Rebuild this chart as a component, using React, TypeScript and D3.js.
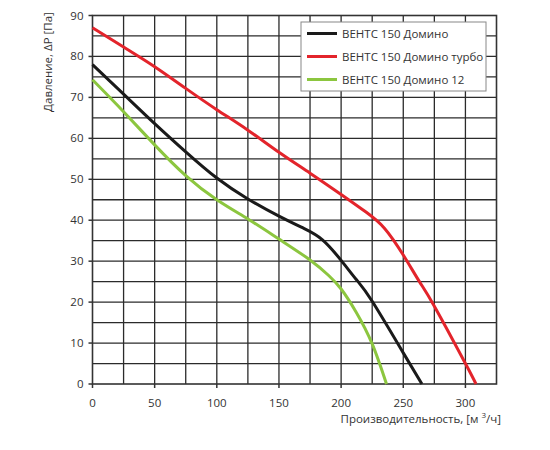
import React from "react";
import * as d3 from "d3";

const xTicks = [0, 50, 100, 150, 200, 250, 300];
const yTicks = [0, 10, 20, 30, 40, 50, 60, 70, 80, 90];

const seriesNames = ["ВЕНТС 150 Домино", "ВЕНТС 150 Домино турбо", "ВЕНТС 150 Домино 12"];
const seriesColors = ["#1a1a1a", "#e3242b", "#8cc63f"];

const blackX = [0, 25, 50, 75, 100, 125, 150, 170, 185, 200, 212, 225, 250, 265];
const blackY = [78, 70.8, 63.6, 56.7, 50.3, 45.2, 41, 38, 35.2, 30.2, 25.6, 20.2, 7.6, 0];

const redX = [0, 25, 50, 75, 100, 125, 150, 175, 200, 220, 235, 250, 263, 275, 300, 308.5];
const redY = [87, 82.3, 77.5, 72.2, 67, 62, 56.6, 51.5, 46.3, 42, 38, 31.5, 25, 19, 5, 0];

const greenX = [0, 25, 50, 75, 100, 125, 150, 175, 190, 200, 212, 225, 236.5];
const greenY = [74.3, 66.5, 58.4, 50.9, 45, 40.3, 35.4, 30.3, 26.5, 23.2, 17.6, 9.8, 0];

const seriesX = [blackX, redX, greenX];
const seriesY = [blackY, redY, greenY];

export default function App() {
  const left = 92.5;
  const right = 496.5;
  const top = 15.5;
  const bottom = 384;
  const x = d3.scaleLinear().domain([0, 325]).range([left, right]);
  const y = d3.scaleLinear().domain([0, 90]).range([bottom, top]);
  const vGrid = d3.range(25, 325, 25);
  const hGrid = d3.range(5, 90, 5);
  const line = d3
    .line<[number, number]>()
    .x((d) => x(d[0]))
    .y((d) => y(d[1]))
    .curve(d3.curveNatural);
  const font = "'Open Sans', 'Noto Sans', sans-serif";
  const legendX = 301;
  const legendY = 22;
  return (
    <svg
      width={550}
      height={450}
      style={{ position: "absolute", left: 0, top: 0, background: "#fff" }}
      fontFamily={font}
    >
      {vGrid.map((v) => (
        <line key={"v" + v} x1={x(v)} x2={x(v)} y1={top} y2={bottom} stroke="#2b2b2b" strokeWidth={1.3} />
      ))}
      {hGrid.map((v) => (
        <line key={"h" + v} x1={left} x2={right} y1={y(v)} y2={y(v)} stroke="#2b2b2b" strokeWidth={1.3} />
      ))}
      <rect x={left} y={top} width={right - left} height={bottom - top} fill="none" stroke="#333" strokeWidth={1.6} />
      {yTicks.map((t) => (
        <g key={"yt" + t}>
          <line x1={left - 4} x2={left} y1={y(t)} y2={y(t)} stroke="#333" strokeWidth={1.5} />
          <text x={left - 9} y={y(t)} dy="0.35em" textAnchor="end" fontSize={11.5} fill="#333">
            {t}
          </text>
        </g>
      ))}
      {xTicks.map((t) => (
        <g key={"xt" + t}>
          <line x1={x(t)} x2={x(t)} y1={bottom} y2={bottom + 4} stroke="#333" strokeWidth={1.5} />
          <text x={x(t)} y={bottom + 19} dy="0.35em" textAnchor="middle" fontSize={11.5} fill="#333">
            {t}
          </text>
        </g>
      ))}
      {seriesX.map((xs, i) => (
        <path
          key={"s" + i}
          d={line(xs.map((v, j) => [v, seriesY[i][j]] as [number, number])) || ""}
          fill="none"
          stroke={seriesColors[i]}
          strokeWidth={3}
          strokeLinejoin="round"
        />
      ))}
      <rect x={legendX} y={legendY} width={185} height={69} fill="#fff" stroke="#888" strokeWidth={1} />
      {seriesNames.map((n, i) => (
        <g key={"l" + i}>
          <line
            x1={legendX + 6}
            x2={legendX + 36}
            y1={legendY + 11.5 + i * 23}
            y2={legendY + 11.5 + i * 23}
            stroke={seriesColors[i]}
            strokeWidth={3}
          />
          <text x={legendX + 41} y={legendY + 11.5 + i * 23} dy="0.35em" fontSize={11.5} fill="#333">
            {n}
          </text>
        </g>
      ))}
      <text
        transform={`translate(48, 62) rotate(-90)`}
        textAnchor="middle"
        dy="0.35em"
        fontSize={11.5}
        fill="#333"
      >
        Давление, ΔP [Па]
      </text>
      <text x={501} y={419} dy="0.35em" textAnchor="end" fontSize={11.5} fill="#333">
        Производительность, [м <tspan dy="-5" fontSize={8}>3</tspan>
        <tspan dy="5">/ч]</tspan>
      </text>
    </svg>
  );
}
